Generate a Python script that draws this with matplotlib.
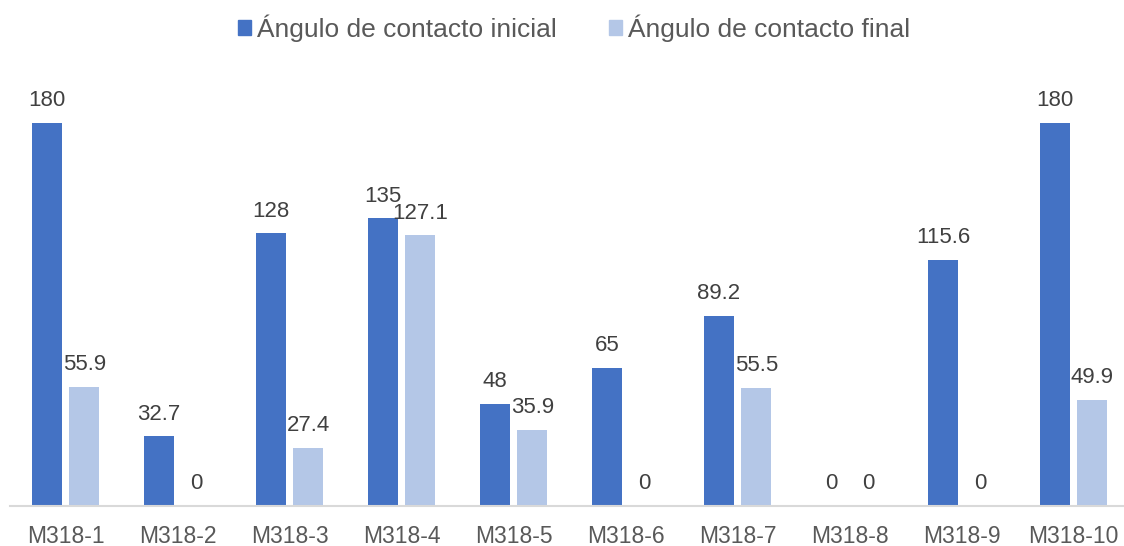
import matplotlib
matplotlib.use("Agg")
import matplotlib.pyplot as plt
from matplotlib.patches import Patch
import numpy as np

categories = ["M318-1", "M318-2", "M318-3", "M318-4", "M318-5",
              "M318-6", "M318-7", "M318-8", "M318-9", "M318-10"]
angulo_inicial = [180, 32.7, 128, 135, 48, 65, 89.2, 0, 115.6, 180]
angulo_final = [55.9, 0, 27.4, 127.1, 35.9, 0, 55.5, 0, 0, 49.9]
series_names = ["Ángulo de contacto inicial", "Ángulo de contacto final"]

c_dark = "#4472C4"
c_light = "#B4C7E7"
label_color = "#404040"
tick_color = "#595959"

plt.rcParams["font.family"] = ["Liberation Sans", "DejaVu Sans"]

W, H = 1124, 546
fig = plt.figure(figsize=(W / 100, H / 100), dpi=100)
ax = fig.add_axes([9.7 / W, 1 - 506 / H, 1120 / W, 426 / H])

x = np.arange(len(categories))
bw = 0.268
off = 0.1665
b1 = ax.bar(x - off, angulo_inicial, bw, color=c_dark, zorder=2)
b2 = ax.bar(x + off, angulo_final, bw, color=c_light, zorder=2)

for bars, vals in ((b1, angulo_inicial), (b2, angulo_final)):
    for rect, v in zip(bars, vals):
        ax.annotate(f"{v:g}", (rect.get_x() + rect.get_width() / 2, v),
                    xytext=(0, 12), textcoords="offset points",
                    ha="center", va="baseline", fontsize=16, color=label_color)

ax.set_xlim(-0.5, len(categories) - 0.5)
ax.set_ylim(0, 200)
ax.set_yticks([])
ax.set_xticks(x)
ax.set_xticklabels(categories, fontsize=16.5, color=tick_color)
ax.tick_params(axis="x", length=0, pad=13.5)
for s in ("top", "left", "right"):
    ax.spines[s].set_visible(False)
ax.spines["bottom"].set_color("#D9D9D9")
ax.spines["bottom"].set_linewidth(1.5)

handles = [Patch(color=c_dark), Patch(color=c_light)]
fig.legend(handles, series_names, loc="center", bbox_to_anchor=(574 / W, 1 - 28 / H),
           ncol=2, frameon=False, fontsize=19, handlelength=0.5, handleheight=0.5,
           handletextpad=0.2, columnspacing=2.0, labelcolor=tick_color)

fig.savefig("out.png", dpi=100)
